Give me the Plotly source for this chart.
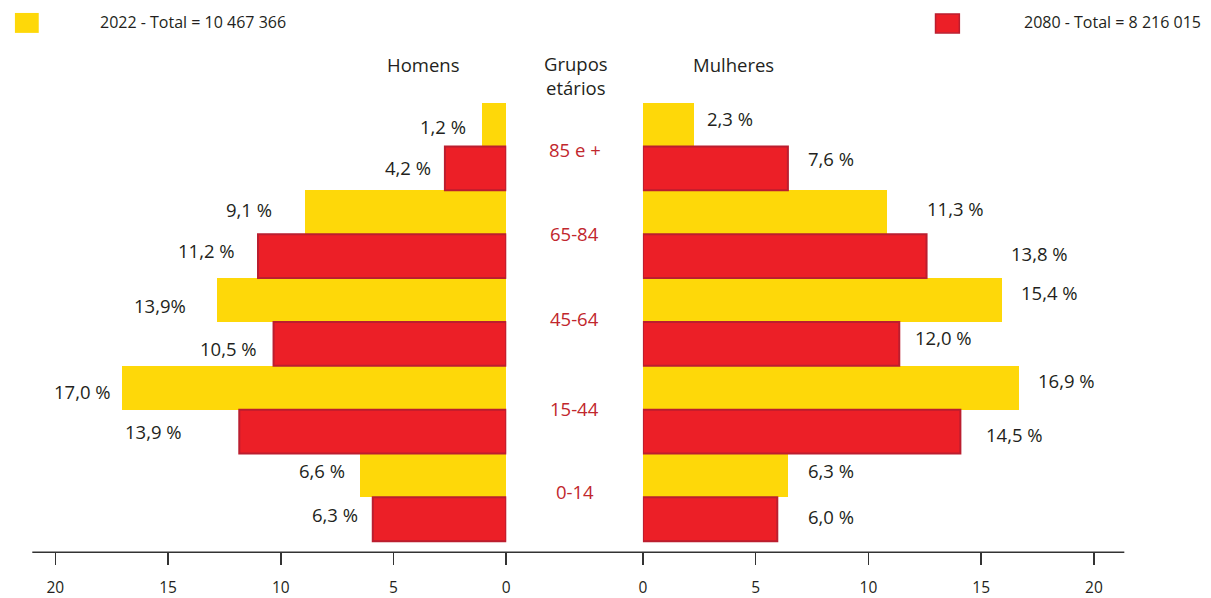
import plotly.graph_objects as go

W, H = 1211, 598

# ---------------- data ----------------
groups = ["85 e +", "65-84", "45-64", "15-44", "0-14"]
# bar lengths (%) as drawn
men_2022 = [1.07, 8.94, 12.82, 17.04, 6.49]
men_2080 = [2.72, 11.01, 10.32, 11.84, 5.92]
women_2022 = [2.26, 10.81, 15.92, 16.68, 6.44]
women_2080 = [6.43, 12.58, 11.37, 14.08, 5.96]
# printed labels
men_2022_labels = ["1,2 %", "9,1 %", "13,9%", "17,0 %", "6,6 %"]
men_2080_labels = ["4,2 %", "11,2 %", "10,5 %", "13,9 %", "6,3 %"]
women_2022_labels = ["2,3 %", "11,3 %", "15,4 %", "16,9 %", "6,3 %"]
women_2080_labels = ["7,6 %", "13,8 %", "12,0 %", "14,5 %", "6,0 %"]
tick_values = [0, 5, 10, 15, 20]
legend_2022 = "2022 - Total = 10 467 366"
legend_2080 = "2080 - Total = 8 216 015"

# ---------------- styles / layout helpers ----------------
YELLOW = "#FED809"
RED = "#EC1F27"
RED_EDGE = "#BB1E2F"
TXT = "#231F20"
GRP = "#C1272D"
FONT = "Open Sans"

def px(x):
    return x / W

def py(y):
    return 1 - y / H

pos_2022 = [9 - 2 * i for i in range(len(groups))]
pos_2080 = [8 - 2 * i for i in range(len(groups))]

# label offsets (pixel gap from bar end, vertical shift)
men_2022_off = [(15, -2), (32, 3), (30, -6), (10, -4), (14, 5)]
men_2080_off = [(13, 1), (22, 6), (16, -5), (56, 0), (14, 5)]
women_2022_off = [(12, 6), (39, 4), (18, 7), (18, 7), (19, 5)]
women_2080_off = [(19, 10), (83, 3), (15, 6), (25, -3), (30, 3)]

fig = go.Figure()
fig.add_bar(x=men_2022, y=pos_2022, orientation="h", xaxis="x", yaxis="y",
            width=1, marker=dict(color=YELLOW, line=dict(width=0)), name="2022 H")
fig.add_bar(x=men_2080, y=pos_2080, orientation="h", xaxis="x", yaxis="y",
            width=1, marker=dict(color=RED, line=dict(color=RED_EDGE, width=2)), name="2080 H")
fig.add_bar(x=women_2022, y=pos_2022, orientation="h", xaxis="x2", yaxis="y",
            width=1, marker=dict(color=YELLOW, line=dict(width=0)), name="2022 M")
fig.add_bar(x=women_2080, y=pos_2080, orientation="h", xaxis="x2", yaxis="y",
            width=1, marker=dict(color=RED, line=dict(color=RED_EDGE, width=2)), name="2080 M")

ann = []
lab_font = dict(family=FONT, size=18.5, color=TXT)

def add_labels(vals, pos, labels, offs, xref, side):
    for v, p, t, (g, s) in zip(vals, pos, labels, offs):
        ann.append(dict(x=v, y=p, xref=xref, yref="y", text=t, showarrow=False,
                        xanchor="right" if side == "left" else "left",
                        xshift=-g if side == "left" else g, yshift=s,
                        font=lab_font, borderpad=0))

add_labels(men_2022, pos_2022, men_2022_labels, men_2022_off, "x", "left")
add_labels(men_2080, pos_2080, men_2080_labels, men_2080_off, "x", "left")
add_labels(women_2022, pos_2022, women_2022_labels, women_2022_off, "x2", "right")
add_labels(women_2080, pos_2080, women_2080_labels, women_2080_off, "x2", "right")

grp_shift = [-3, 1, 3, 1, 6]
for g, p, s in zip(groups, pos_2080, grp_shift):
    ann.append(dict(x=px(575), y=p + 0.5, xref="paper", yref="y", text=g, showarrow=False,
                    xanchor="center", yshift=s, font=dict(family=FONT, size=18.5, color=GRP)))

head_font = dict(family=FONT, size=18.5, color=TXT)
for t, x, y in [("Homens", 422, 65), ("Grupos<br>etários", 576, 76), ("Mulheres", 735, 65)]:
    ann.append(dict(x=px(x), y=py(y), xref="paper", yref="paper", text=t, showarrow=False,
                    xanchor="center", yanchor="middle", font=head_font))

leg_font = dict(family=FONT, size=16, color=TXT)
ann.append(dict(x=px(96), y=py(22), xref="paper", yref="paper", text=legend_2022, showarrow=False,
                xanchor="left", yanchor="middle", font=leg_font, borderpad=0))
ann.append(dict(x=px(1027), y=py(22), xref="paper", yref="paper", text=legend_2080, showarrow=False,
                xanchor="left", yanchor="middle", font=leg_font, borderpad=0))

y_dom = [py(554), py(103)]
shapes = [
    dict(type="line", xref="paper", yref="paper", x0=px(28.5), x1=px(1128.7),
         y0=y_dom[0], y1=y_dom[0], line=dict(color="#333333", width=1.5)),
    dict(type="rect", xref="paper", yref="paper", x0=px(11), x1=px(35), y0=py(13), y1=py(33),
         fillcolor=YELLOW, line=dict(width=0)),
    dict(type="rect", xref="paper", yref="paper", x0=px(938.5), x1=px(962.5), y0=py(14), y1=py(33),
         fillcolor=RED, line=dict(color=RED_EDGE, width=1.5)),
]

axis_common = dict(tickvals=tick_values, ticks="outside", ticklen=12, tickwidth=1.5,
                   tickcolor="#333333", showline=False, showgrid=False, zeroline=False,
                   anchor="y", tickfont=dict(family=FONT, size=15.5, color=TXT),
                   ticklabelstandoff=9, fixedrange=True)

fig.update_layout(
    width=W, height=H,
    margin=dict(l=0, r=0, t=0, b=0),
    paper_bgcolor="white", plot_bgcolor="white",
    showlegend=False, barmode="overlay", bargap=0,
    xaxis=dict(domain=[px(28.5), px(506)], range=[21.02, 0], **axis_common),
    xaxis2=dict(domain=[px(643.7), px(1128.7)], range=[0, 21.35], **axis_common),
    yaxis=dict(domain=y_dom, range=[-0.75, 9.5], visible=False, fixedrange=True),
    annotations=ann, shapes=shapes,
)

fig.write_html(
    "out.html",
    config={"displayModeBar": False, "staticPlot": True},
    post_script="document.body.style.margin='0';document.body.style.overflow='hidden';",
)
